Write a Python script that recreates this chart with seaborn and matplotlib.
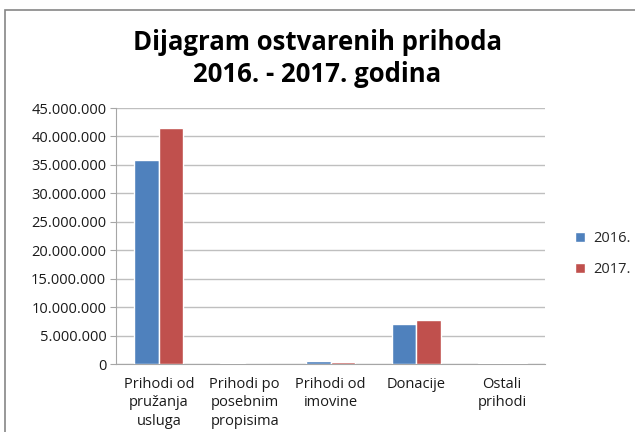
import matplotlib
matplotlib.use('Agg')
import matplotlib.pyplot as plt
from matplotlib.patches import Rectangle
from matplotlib.ticker import FuncFormatter
import seaborn as sns
import pandas as pd

# data
categories = ['Prihodi od\npružanja\nusluga', 'Prihodi po\nposebnim\npropisima', 'Prihodi od\nimovine',
              'Donacije', 'Ostali\nprihodi']
years = ['2016.', '2017.']
values_2016 = [35900000, 100000, 600000, 7000000, 250000]
values_2017 = [41500000, 0, 300000, 7750000, 150000]
y_ticks = list(range(0, 45000001, 5000000))

df = pd.DataFrame({
    'kategorija': categories * 2,
    'godina': [years[0]] * len(categories) + [years[1]] * len(categories),
    'iznos': values_2016 + values_2017,
})

sns.set_style('white')
plt.rcParams['font.family'] = ['Open Sans', 'DejaVu Sans']

fig = plt.figure(figsize=(6.35, 4.32), dpi=100)
ax = fig.add_axes([116 / 635, 1 - 364 / 432, 429 / 635, 256 / 432])

sns.barplot(data=df, x='kategorija', y='iznos', hue='godina', order=categories, hue_order=years,
            palette=['#4F81BD', '#C0504D'], width=0.57, saturation=1, ax=ax, zorder=3)

ax.set_ylim(0, 45000000)
ax.set_yticks(y_ticks)
ax.yaxis.set_major_formatter(FuncFormatter(lambda v, _: f'{int(v):,}'.replace(',', '.')))
ax.grid(axis='y', color='#BFBFBF', linewidth=1, zorder=0)
ax.set_xlabel('')
ax.set_ylabel('')
for side in ['top', 'right']:
    ax.spines[side].set_visible(False)
for side in ['left', 'bottom']:
    ax.spines[side].set_color('#A6A6A6')
ax.tick_params(axis='y', left=True, length=4, color='#A6A6A6', labelsize=10.5, pad=3, labelcolor='#1a1a1a')
ax.tick_params(axis='x', bottom=False, labelsize=10.5, pad=6, labelcolor='#1a1a1a')
for lbl in ax.get_xticklabels():
    lbl.set_linespacing(1.3)

ax.legend(loc='center left', bbox_to_anchor=(1.04, 0.43), frameon=False, fontsize=10.5,
          handlelength=0.7, handleheight=0.7, labelspacing=1.1, handletextpad=0.5)

fig.text(0.5, 1 - 42 / 432, 'Dijagram ostvarenih prihoda', ha='center', va='center',
         fontsize=18.5, fontweight='bold', color='black')
fig.text(0.5, 1 - 75 / 432, '2016. - 2017. godina', ha='center', va='center',
         fontsize=18.5, fontweight='bold', color='black')

# chart border (cut off on the right and bottom)
fig.patches.append(Rectangle((5 / 635, -0.2), 2, 1 - 10 / 432 + 0.2, transform=fig.transFigure,
                             fill=False, edgecolor='#868686', linewidth=1.2))

fig.savefig('out.png', dpi=100)
